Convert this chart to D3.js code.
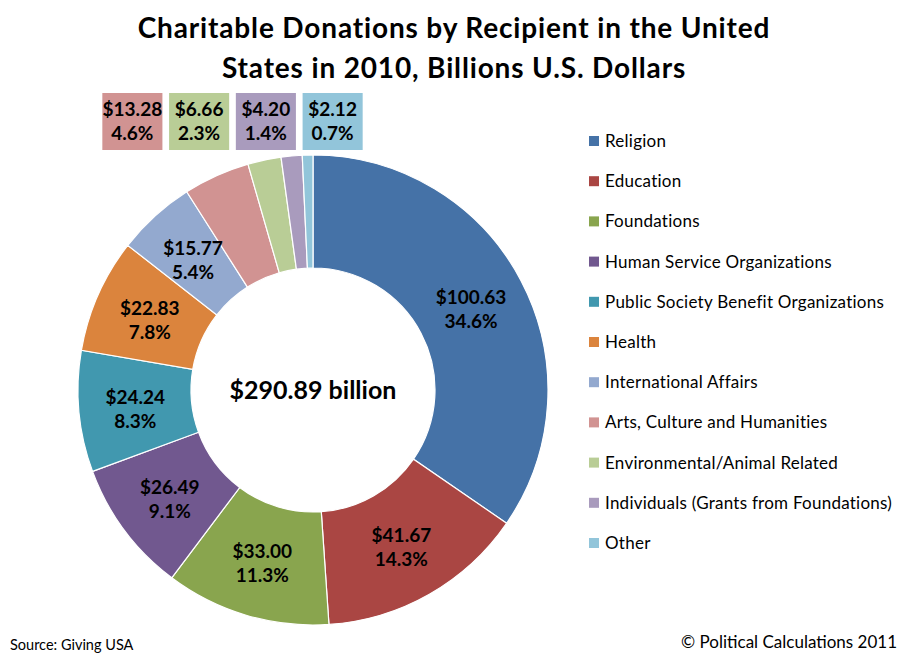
<!DOCTYPE html>
<html>
<head>
<meta charset="utf-8">
<script src="https://cdn.jsdelivr.net/npm/d3@7"></script>
<style>
  body { margin: 0; background: #fff; }
  svg { font-family: Lato, "Open Sans", sans-serif; }
</style>
</head>
<body>
<svg id="chart" width="909" height="662"></svg>
<script>
// data
var categories = [
  "Religion", "Education", "Foundations", "Human Service Organizations",
  "Public Society Benefit Organizations", "Health", "International Affairs",
  "Arts, Culture and Humanities", "Environmental/Animal Related",
  "Individuals (Grants from Foundations)", "Other"
];
var amounts = [100.63, 41.67, 33.00, 26.49, 24.24, 22.83, 15.77, 13.28, 6.66, 4.20, 2.12];
var percents = ["34.6%", "14.3%", "11.3%", "9.1%", "8.3%", "7.8%", "5.4%", "4.6%", "2.3%", "1.4%", "0.7%"];
var colors = ["#4572A7", "#AA4643", "#89A54E", "#71588F", "#4198AF", "#DB843D",
  "#93A9CF", "#D19392", "#B9CD96", "#A99BBD", "#92C5DA"];
var totalLabel = "$290.89 billion";

var svg = d3.select("#chart");
var cx = 313, cy = 390, outerR = 235, innerR = 122;

// title
svg.append("text")
  .attr("x", 454).attr("y", 38)
  .attr("text-anchor", "middle")
  .style("font-size", "28px").style("font-weight", "bold")
  .style("letter-spacing", "0.85px")
  .text("Charitable Donations by Recipient in the United");
svg.append("text")
  .attr("x", 454).attr("y", 78)
  .attr("text-anchor", "middle")
  .style("font-size", "28px").style("font-weight", "bold")
  .style("letter-spacing", "0.85px")
  .text("States in 2010, Billions U.S. Dollars");

var data = categories.map(function (c, i) {
  return { name: c, value: amounts[i], pct: percents[i], color: colors[i], idx: i };
});

var pie = d3.pie().sort(null).value(function (d) { return d.value; });
var arc = d3.arc().innerRadius(innerR).outerRadius(outerR);
var arcs = pie(data);

var g = svg.append("g").attr("transform", "translate(" + cx + "," + cy + ")");

g.selectAll("path")
  .data(arcs)
  .enter()
  .append("path")
  .attr("d", arc)
  .attr("fill", function (d) { return d.data.color; })
  .attr("stroke", "#fff")
  .attr("stroke-width", 1.2);

// labels inside slices (the big ones)
var inside = arcs.filter(function (d) { return d.data.idx < 7; });
var lbl = g.selectAll(".lbl")
  .data(inside)
  .enter()
  .append("text")
  .attr("class", "lbl")
  .attr("text-anchor", "middle")
  .attr("transform", function (d) {
    var c = arc.centroid(d);
    return "translate(" + c[0] + "," + c[1] + ")";
  })
  .style("font-size", "19px").style("font-weight", "bold")
  .attr("fill", "#000");
lbl.append("tspan").attr("x", 0).attr("dy", "-0.15em")
  .text(function (d) { return "$" + d.data.value.toFixed(2); });
lbl.append("tspan").attr("x", 0).attr("dy", "1.27em")
  .text(function (d) { return d.data.pct; });

// small slices get boxed labels along the top
var small = data.filter(function (d) { return d.idx >= 7; });
var boxX = d3.scaleBand()
  .domain(small.map(function (d) { return d.name; }))
  .range([99, 366])
  .paddingInner(0.1)
  .paddingOuter(0.05);

var boxes = svg.selectAll(".box")
  .data(small)
  .enter()
  .append("g")
  .attr("class", "box")
  .attr("transform", function (d) { return "translate(" + boxX(d.name) + ",93)"; });
boxes.append("rect")
  .attr("width", boxX.bandwidth())
  .attr("height", 57)
  .attr("fill", function (d) { return d.color; });
var bt = boxes.append("text")
  .attr("text-anchor", "middle")
  .style("font-size", "19px").style("font-weight", "bold");
bt.append("tspan").attr("x", boxX.bandwidth() / 2).attr("y", 23)
  .text(function (d) { return "$" + d.value.toFixed(2); });
bt.append("tspan").attr("x", boxX.bandwidth() / 2).attr("y", 47)
  .text(function (d) { return d.pct; });

// center total
g.append("text")
  .attr("text-anchor", "middle")
  .attr("y", 9)
  .style("font-size", "25px").style("font-weight", "bold")
  .text(totalLabel);

// legend
var legY = d3.scalePoint()
  .domain(categories)
  .range([141, 543]);

var leg = svg.selectAll(".leg")
  .data(data)
  .enter()
  .append("g")
  .attr("class", "leg")
  .attr("transform", function (d) { return "translate(589," + legY(d.name) + ")"; });
leg.append("rect")
  .attr("x", 0).attr("y", -5)
  .attr("width", 10).attr("height", 10)
  .attr("fill", function (d) { return d.color; });
leg.append("text")
  .attr("x", 16).attr("y", 6)
  .style("font-size", "17px")
  .style("letter-spacing", "0.25px")
  .attr("fill", "#000")
  .text(function (d) { return d.name; });

// footer
svg.append("text")
  .attr("x", 10).attr("y", 650)
  .style("font-size", "14.5px")
  .text("Source: Giving USA");
svg.append("text")
  .attr("x", 897).attr("y", 648)
  .attr("text-anchor", "end")
  .style("font-size", "17px")
  .text("\u00A9 Political Calculations 2011");
</script>
</body>
</html>
